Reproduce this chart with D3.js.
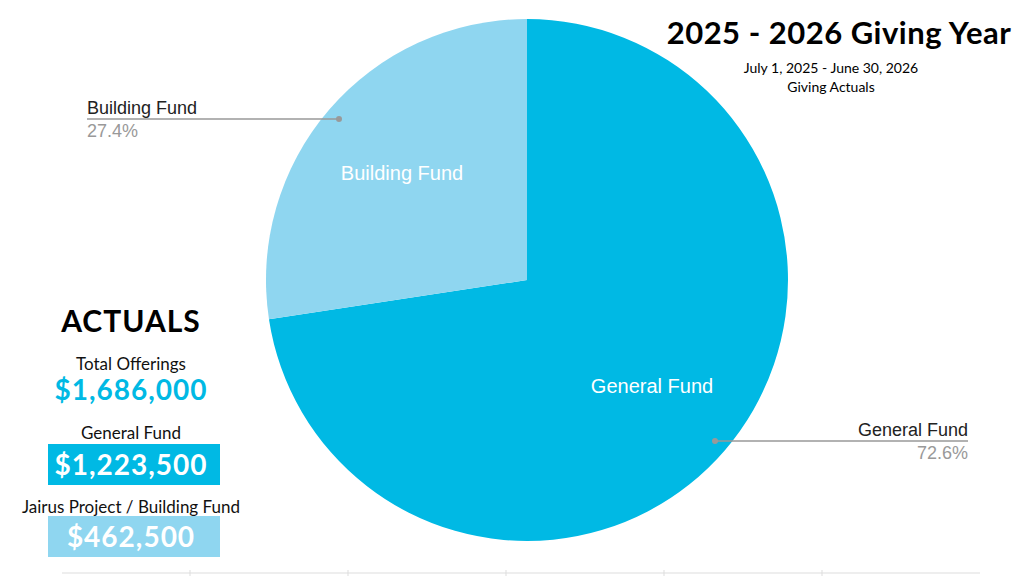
<!DOCTYPE html>
<html><head><meta charset="utf-8">
<script src="https://cdn.jsdelivr.net/npm/d3@7"></script>
<style>body{margin:0;background:#fff}svg{display:block}</style>
</head><body>
<script>
var funds = ["General Fund", "Building Fund"];
var shares = [72.6, 27.4];
var colors = ["#00b9e4", "#8fd6f0"];
var boxLabels = ["Total Offerings", "General Fund", "Jairus Project / Building Fund"];
var boxValues = ["$1,686,000", "$1,223,500", "$462,500"];
var axisTicks = [1, 2, 3, 4, 5];

var svg = d3.select("body").append("svg").attr("width", 1024).attr("height", 576);

// faint axis at bottom
var x = d3.scaleLinear().domain([0, 6]).range([32, 980]);
var ax = svg.append("g").attr("transform", "translate(0,573)");
ax.append("line").attr("x1", 62).attr("x2", 980).attr("stroke", "#ddd");
ax.selectAll("line.t").data(axisTicks).enter().append("line")
  .attr("x1", function(d){ return x(d); }).attr("x2", function(d){ return x(d); })
  .attr("y1", -3).attr("y2", 3).attr("stroke", "#ddd");

var cx = 527, cy = 280, r = 261;
var pie = d3.pie().sort(null)(shares);
var arc = d3.arc().innerRadius(0).outerRadius(r);
var g = svg.append("g").attr("transform", "translate(" + cx + "," + cy + ")");
g.selectAll("path").data(pie).enter().append("path")
  .attr("d", arc).attr("fill", function(d, i){ return colors[i]; });

var labelPos = [[125, 113], [-125, -100]];
g.selectAll("text.in").data(pie).enter().append("text")
  .attr("x", function(d, i){ return labelPos[i][0]; })
  .attr("y", function(d, i){ return labelPos[i][1]; })
  .attr("text-anchor", "middle").attr("fill", "#fff")
  .style("font", "20px 'Liberation Sans', Arial, sans-serif")
  .text(function(d, i){ return funds[i]; });

// callouts
var callY = [441, 119];
var callEnd = [968, 87];
var dotX = [715, 339];
pie.forEach(function(d, i){
  var right = i === 0;
  var py = callY[i];
  svg.append("line").attr("x1", dotX[i]).attr("y1", py).attr("x2", callEnd[i]).attr("y2", py)
    .attr("stroke", "#999").attr("stroke-width", 1.5);
  svg.append("circle").attr("cx", dotX[i]).attr("cy", py).attr("r", 3).attr("fill", "#999");
  svg.append("text").attr("x", callEnd[i]).attr("y", py - 5)
    .attr("text-anchor", right ? "end" : "start").attr("fill", "#222")
    .style("font", "18px 'Liberation Sans', Arial, sans-serif").text(funds[i]);
  svg.append("text").attr("x", callEnd[i]).attr("y", py + 18)
    .attr("text-anchor", right ? "end" : "start").attr("fill", "#999")
    .style("font", "18px 'Liberation Sans', Arial, sans-serif").text(shares[i].toFixed(1) + "%");
});

// title
svg.append("text").attr("x", 839).attr("y", 44).attr("text-anchor", "middle")
  .style("font", "bold 31px Lato, sans-serif").style("letter-spacing", "0.5px").attr("fill", "#000").text("2025 - 2026 Giving Year");
svg.append("text").attr("x", 831).attr("y", 73).attr("text-anchor", "middle")
  .style("font", "14px Lato, sans-serif").text("July 1, 2025 - June 30, 2026");
svg.append("text").attr("x", 831).attr("y", 92).attr("text-anchor", "middle")
  .style("font", "14px Lato, sans-serif").text("Giving Actuals");

// actuals panel
var px0 = 131;
svg.append("text").attr("x", px0).attr("y", 332).attr("text-anchor", "middle")
  .style("font", "bold 30px Lato, sans-serif").style("letter-spacing", "1px").text("ACTUALS");
var labelY = [370, 439, 513];
var valY = [400, 475, 547];
var fills = [null, colors[0], colors[1]];
boxLabels.forEach(function(l, i){
  svg.append("text").attr("x", px0).attr("y", labelY[i]).attr("text-anchor", "middle")
    .style("font", "17px Lato, sans-serif").attr("fill", "#111").text(l);
  if (fills[i]) svg.append("rect").attr("x", 48).attr("y", valY[i] - 31).attr("width", 172).attr("height", 41).attr("fill", fills[i]);
  svg.append("text").attr("x", px0).attr("y", valY[i])
    .attr("text-anchor", "middle").style("letter-spacing", "1px")
    .style("font", "bold 28px Lato, sans-serif").attr("fill", fills[i] ? "#fff" : colors[0]).text(boxValues[i]);
});
</script>
</body></html>
